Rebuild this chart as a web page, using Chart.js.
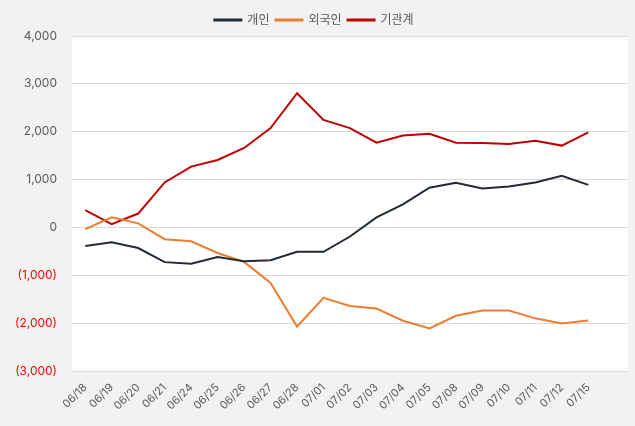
<!DOCTYPE html>
<html>
<head>
<meta charset="utf-8">
<script src="https://cdn.jsdelivr.net/npm/chart.js@4/dist/chart.umd.min.js"></script>
<style>
  html, body { margin: 0; padding: 0; background: #f2f2f2; }
  #wrap { width: 635px; height: 426px; }
</style>
</head>
<body>
<div id="wrap"><canvas id="c"></canvas></div>
<script>
// Categories (trading days)
const dates = ['06/18','06/19','06/20','06/21','06/24','06/25','06/26','06/27','06/28','07/01',
               '07/02','07/03','07/04','07/05','07/08','07/09','07/10','07/11','07/12','07/15'];

// Cumulative net buying per investor group
const individual  = [-390, -310, -430, -725, -760, -620, -705, -685, -510, -510,
                     -190, 210, 480, 830, 935, 815, 855, 940, 1080, 890];
const foreigner   = [-35, 210, 85, -245, -290, -535, -720, -1160, -2070, -1470,
                     -1640, -1695, -1950, -2110, -1845, -1735, -1735, -1900, -2005, -1945];
const institution = [360, 70, 290, 940, 1270, 1410, 1660, 2075, 2805, 2245,
                     2075, 1770, 1920, 1955, 1770, 1765, 1745, 1810, 1710, 1985];

// y axis ticks
const yMin = -3000, yMax = 4000, yStep = 1000;

const fmt = v => Math.abs(v).toLocaleString('en-US');

// white plot area on grey page
const plotBg = {
    id: 'plotBg',
    beforeDraw(chart) {
        const a = chart.chartArea, ctx = chart.ctx;
        ctx.save();
        ctx.fillStyle = '#ffffff';
        ctx.fillRect(a.left, a.top, a.right - a.left, a.bottom - a.top);
        ctx.restore();
    }
};

const lineDs = (label, data, color) => ({
    label, data,
    borderColor: color, backgroundColor: color,
    borderWidth: 2, pointRadius: 0, tension: 0
});

new Chart(document.getElementById('c'), {
    type: 'line',
    data: {
        // one spare slot on the right, as in the original plot
        labels: [...dates, ''],
        datasets: [
            lineDs('개인', individual, '#222a35'),
            lineDs('외국인', foreigner, '#ed7d31'),
            lineDs('기관계', institution, '#c00000')
        ]
    },
    options: {
        responsive: true,
        maintainAspectRatio: false,
        animation: false,
        layout: { padding: { left: 0, right: 7, top: 8, bottom: 0 } },
        font: { family: 'Inter, "Noto Sans CJK KR", sans-serif' },
        plugins: {
            legend: {
                position: 'top',
                labels: {
                    boxWidth: 27, boxHeight: 1, padding: 6,
                    color: '#595959',
                    font: { size: 12, family: 'Inter, "Noto Sans CJK KR", sans-serif' }
                }
            },
            tooltip: { enabled: false }
        },
        scales: {
            x: {
                offset: true,
                grid: { display: false },
                border: { display: false },
                ticks: {
                    autoSkip: false, maxRotation: 45, minRotation: 45,
                    color: '#595959', padding: 2,
                    font: { size: 11, family: 'Inter, sans-serif' }
                },
                afterFit(s) { s.height = 55; }
            },
            y: {
                min: yMin, max: yMax,
                grid: { color: '#d9d9d9', drawTicks: false },
                border: { display: false },
                ticks: {
                    stepSize: yStep, padding: 15,
                    font: { size: 12, family: 'Inter, sans-serif' },
                    color: c => c.tick.value < 0 ? '#ff0000' : '#595959',
                    callback: v => v < 0 ? '(' + fmt(v) + ')' : fmt(v)
                },
                afterFit(s) { s.width = 72; }
            }
        }
    },
    plugins: [plotBg]
});
</script>
</body>
</html>
